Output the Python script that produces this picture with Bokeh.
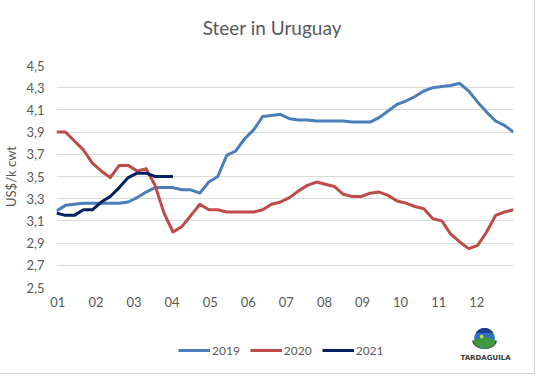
import numpy as np
from bokeh.plotting import figure
from bokeh.layouts import column
from bokeh.models import (Range1d, FixedTicker, Legend, LegendItem, CustomJSTickFormatter)
from bokeh.embed import file_html
from bokeh.resources import INLINE
from bokeh.core.properties import value

# ---------------- data ----------------
weeks = list(range(1, 53))
months = ["01", "02", "03", "04", "05", "06", "07", "08", "09", "10", "11", "12"]
y_ticks = [2.5, 2.7, 2.9, 3.1, 3.3, 3.5, 3.7, 3.9, 4.1, 4.3, 4.5]
series_names = ["2019", "2020", "2021"]

y2019 = [3.19, 3.24, 3.25, 3.26, 3.26, 3.26, 3.26, 3.26, 3.27, 3.31,
         3.36, 3.40, 3.40, 3.40, 3.38, 3.38, 3.35, 3.45, 3.50, 3.69,
         3.73, 3.84, 3.92, 4.04, 4.05, 4.06, 4.02, 4.01, 4.01, 4.00,
         4.00, 4.00, 4.00, 3.99, 3.99, 3.99, 4.03, 4.09, 4.15, 4.18,
         4.22, 4.27, 4.30, 4.31, 4.32, 4.34, 4.27, 4.17, 4.08, 4.00,
         3.96, 3.90]
y2020 = [3.90, 3.90, 3.82, 3.74, 3.62, 3.55, 3.49, 3.60, 3.60, 3.55,
         3.57, 3.42, 3.17, 3.00, 3.05, 3.15, 3.25, 3.20, 3.20, 3.18,
         3.18, 3.18, 3.18, 3.20, 3.25, 3.27, 3.31, 3.37, 3.42, 3.45,
         3.43, 3.41, 3.34, 3.32, 3.32, 3.35, 3.36, 3.33, 3.28, 3.26,
         3.23, 3.21, 3.12, 3.10, 2.98, 2.91, 2.85, 2.88, 3.00, 3.15,
         3.18, 3.20]
y2021 = [3.17, 3.15, 3.15, 3.20, 3.20, 3.27, 3.32, 3.40, 3.49, 3.53,
         3.53, 3.50, 3.50, 3.50]

COLORS = ["#4A7EBB", "#BE4B48", "#002060"]
FONT = "Lato"
TXT = "#595959"
W = 534
ML, MR = 47, 21   # frame borders (left / right) shared by all strips
X0, X1 = 8 + ML, 8 + W - MR   # page x of frame edges


def strip(height, y_top):
    f = figure(width=W, height=height, output_backend="svg", toolbar_location=None,
               x_range=Range1d(X0, X1), y_range=Range1d(y_top + height, y_top),
               min_border_left=ML, min_border_right=MR,
               min_border_top=0, min_border_bottom=0)
    f.axis.visible = False
    f.grid.visible = False
    f.outline_line_color = None
    f.border_fill_color = "white"
    return f


# ---------------- title strip ----------------
top = strip(57, 0)
top.text(x=[275], y=[27], text=["Steer in Uruguay"], text_align="center",
         text_baseline="middle", text_font=value(FONT), text_font_size="19px",
         text_color=TXT)

# ---------------- main chart ----------------
p = figure(width=W, height=266, output_backend="svg", toolbar_location=None,
           x_range=Range1d(1, 52), y_range=Range1d(2.5, 4.5),
           min_border_left=ML, min_border_right=MR, min_border_top=8,
           min_border_bottom=36)
p.outline_line_color = None
p.border_fill_color = "white"

p.xgrid.visible = False
p.ygrid.ticker = FixedTicker(ticks=y_ticks)
p.ygrid.grid_line_color = "#d9d9d9"
p.ygrid.grid_line_width = 1

p.yaxis.ticker = FixedTicker(ticks=y_ticks)
p.yaxis.formatter = CustomJSTickFormatter(code="return tick.toFixed(1).replace('.', ',');")
month_ticks = [1 + m * 51 / 12 + 0.15 for m in range(12)]
p.xaxis.ticker = FixedTicker(ticks=month_ticks)
p.xaxis.formatter = CustomJSTickFormatter(args=dict(labels=months), code="return labels[index];")

for ax in (p.xaxis[0], p.yaxis[0]):
    ax.axis_line_color = None
    ax.major_tick_line_color = None
    ax.minor_tick_line_color = None
    ax.major_tick_in = 0
    ax.major_tick_out = 0
    ax.major_label_text_color = TXT
    ax.major_label_text_font = FONT
    ax.major_label_text_font_size = "13px"
p.yaxis.major_label_standoff = 12
p.xaxis.major_label_standoff = 9
p.yaxis.axis_label = "US$/k cwt"
p.yaxis.axis_label_text_font = FONT
p.yaxis.axis_label_text_font_size = "13px"
p.yaxis.axis_label_text_font_style = "normal"
p.yaxis.axis_label_text_color = TXT
p.yaxis.axis_label_standoff = 4

for ys, c in zip([y2019, y2020, y2021], COLORS):
    p.line(weeks[:len(ys)], ys, line_width=3, color=c, line_join="round")

# ---------------- bottom strip: legend and logo ----------------
b = strip(50, 323)

items = []
for name, c in zip(series_names, COLORS):
    r = b.line(x=[0, 1], y=[0, 1], line_width=3, color=c)
    items.append(LegendItem(label=name, renderers=[r]))
legend = Legend(items=items, location=(177 - X0, 15), orientation="horizontal",
                padding=0, margin=0, spacing=10, glyph_width=32, glyph_height=16,
                label_standoff=2, border_line_color=None, background_fill_alpha=0,
                label_text_font=FONT, label_text_font_size="12px",
                label_text_color=TXT, label_height=16)
b.add_layout(legend)

# logo
cx, cy, r = 491.5, 338.0, 10.5
t = np.linspace(0, 2 * np.pi, 64)
half = np.linspace(0, np.pi, 40)
b.patch(cx + 12.5 * np.cos(half), cy + 2 + 8.5 * np.sin(half), color="#4a3f22", line_width=0)
b.patch(cx + r * np.cos(t), cy + r * np.sin(t), color="#2d72c2", line_width=0)
tu = np.linspace(np.pi + 0.55, 2 * np.pi - 0.55, 30)
b.patch(cx + r * np.cos(tu), cy + r * np.sin(tu), color="#1b3d8f", line_width=0)
b.patch(np.concatenate([cx + 10.8 * np.cos(np.linspace(0, np.pi, 30)),
                        cx + 10.8 * np.cos(np.linspace(np.pi, 2 * np.pi, 30))]),
        np.concatenate([cy + 4 + 5.5 * np.sin(np.linspace(0, np.pi, 30)),
                        cy + 4 + 5.0 * np.sin(np.linspace(np.pi, 2 * np.pi, 30))]),
        color="#3c9a3c", line_width=0)
b.patch(cx - 3 + 1.8 * np.cos(t), cy - 2 + 1.8 * np.sin(t), color="#d6e03c", line_width=0)
b.text(x=[492.5], y=[357], text=["TARDAGUILA"], text_align="center", text_baseline="middle",
       text_font=value("DejaVu Sans"), text_font_style="bold", text_font_size="7px",
       text_color="#3a3a3a")

layout = column(top, p, b, spacing=0, styles={"outline": "1px solid #d0d0d0"})

open("out.html", "w").write(file_html(layout, INLINE))
